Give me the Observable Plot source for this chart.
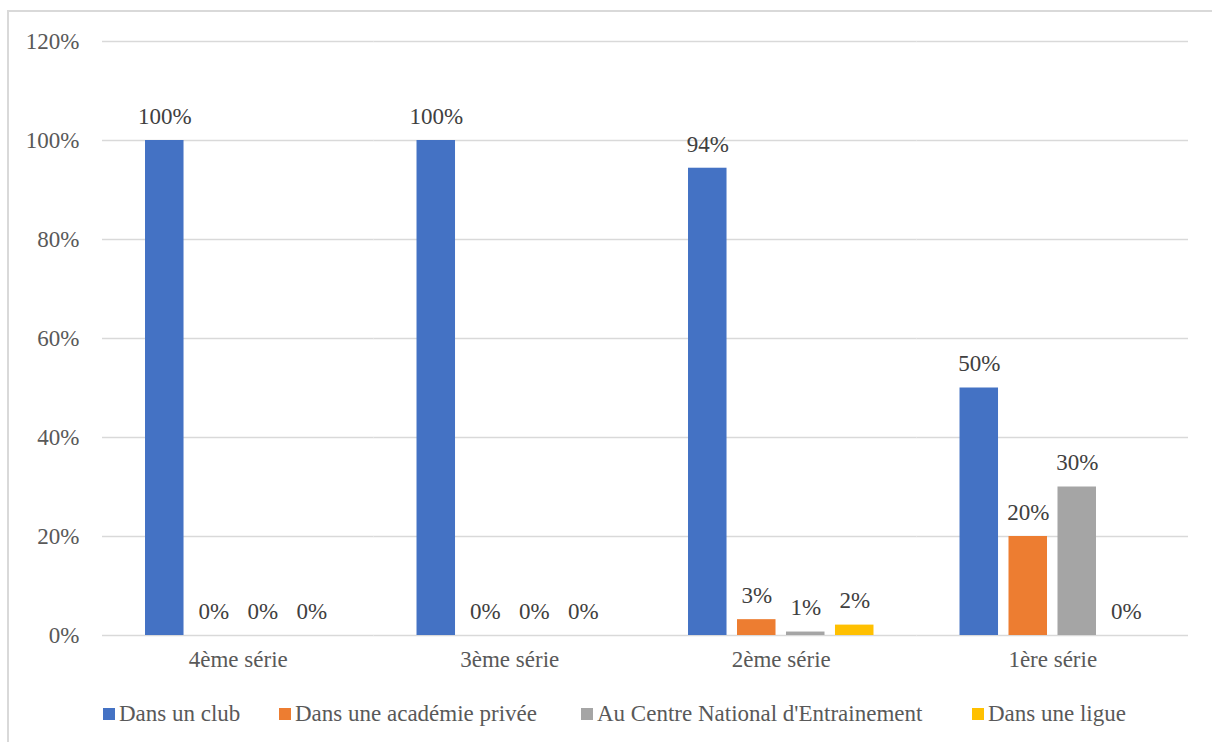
<!DOCTYPE html>
<html><head><meta charset="utf-8">
<script src="https://cdn.jsdelivr.net/npm/d3@7"></script>
<script src="https://cdn.jsdelivr.net/npm/@observablehq/plot@0.6"></script>
<style>
html,body{margin:0;padding:0;background:#fff;}
body{font-family:"Liberation Serif",Tinos,"Times New Roman",Times,"Noto Serif","DejaVu Serif",serif;width:1212px;height:742px;overflow:hidden;position:relative;}
#frame{position:absolute;left:7px;top:10px;width:1230px;height:760px;border:2px solid #d9d9d9;box-sizing:border-box;}
#chart{position:absolute;left:0;top:0;}
#legend{position:absolute;top:0;left:0;width:1212px;height:742px;font-size:23px;color:#595959;white-space:nowrap;pointer-events:none;}
.item{position:absolute;top:700px;height:28px;display:flex;align-items:center;}
.sw{width:12px;height:12px;margin-right:4px;}
#chart svg text{font-family:"Liberation Serif",Tinos,"Times New Roman",Times,"Noto Serif","DejaVu Serif",serif;}
</style>
</head><body>
<div id="frame"></div>
<div id="chart"></div>
<div id="legend"></div>
<script>
const categories = ["4ème série", "3ème série", "2ème série", "1ère série"];
const series = ["Dans un club", "Dans une académie privée", "Au Centre National d'Entrainement", "Dans une ligue"];
const club = [100, 100, 94.4, 50];
const academie = [0, 0, 3.2, 20];
const centre = [0, 0, 0.7, 30];
const ligue = [0, 0, 2.1, 0];
const yTicks = [0, 20, 40, 60, 80, 100, 120];
const colors = ["#4472c4", "#ed7d31", "#a5a5a5", "#ffc000"];
const legendLeft = [103, 279, 581, 972];

const valuesBySeries = [club, academie, centre, ligue];
const data = [];
categories.forEach((c, i) => {
  series.forEach((s, j) => {
    data.push({cat: c, series: s, value: valuesBySeries[j][i]});
  });
});

const FS = 23;
const chart = Plot.plot({
  width: 1212,
  height: 690,
  marginLeft: 102,
  marginRight: 24,
  marginTop: 41,
  marginBottom: 55,
  style: {fontSize: FS + "px", background: "transparent"},
  fx: {domain: categories, padding: 0, label: null, round: false},
  x: {domain: series, paddingInner: 0.214, paddingOuter: 0.878, axis: null, round: false},
  y: {domain: [0, 120], label: null},
  color: {domain: series, range: colors},
  marks: [
    Plot.ruleY(yTicks, {stroke: "#d9d9d9", strokeWidth: 1.4}),
    Plot.barY(data, {fx: "cat", x: "series", y: "value", fill: "series", inset: 0}),
    Plot.text(data, {fx: "cat", x: "series", y: "value", text: d => Math.round(d.value) + "%", dy: -24, fill: "#404040", fontSize: FS}),
    Plot.axisY({ticks: yTicks, tickFormat: d => d + "%", tickSize: 0, tickPadding: 23, fontSize: FS, color: "#595959", label: null}),
    Plot.axisFx({anchor: "bottom", tickSize: 0, tickPadding: 15, fontSize: FS, color: "#595959", label: null})
  ]
});
document.getElementById("chart").appendChild(chart);

const legend = document.getElementById("legend");
series.forEach((s, i) => {
  const it = document.createElement("div");
  it.className = "item";
  it.style.left = legendLeft[i] + "px";
  const sw = document.createElement("div");
  sw.className = "sw";
  sw.style.background = colors[i];
  const t = document.createElement("span");
  t.textContent = s;
  it.appendChild(sw);
  it.appendChild(t);
  legend.appendChild(it);
});
</script>
</body></html>
